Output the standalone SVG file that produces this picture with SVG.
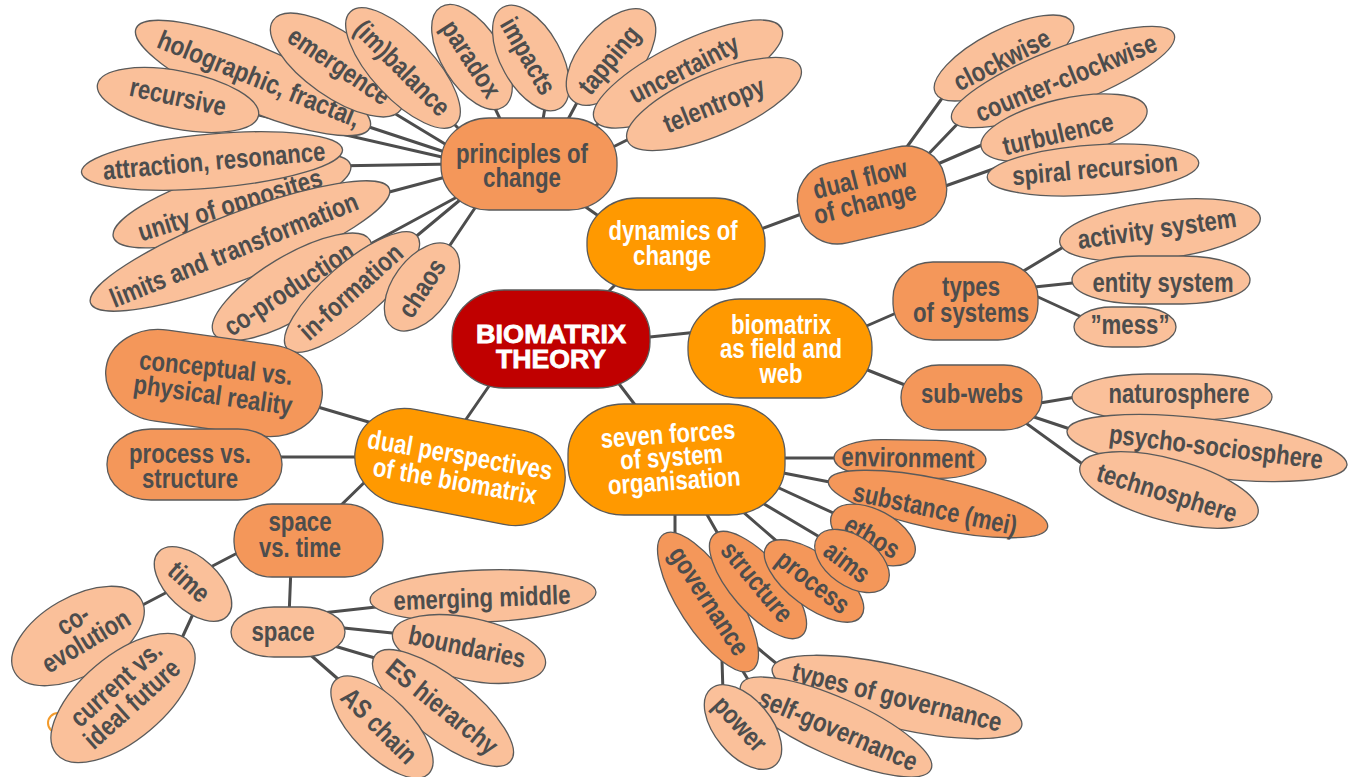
<svg xmlns="http://www.w3.org/2000/svg" width="1358" height="777" viewBox="0 0 1358 777">
<style>
.p{fill:#FAC09A;stroke:#5a5a5a;stroke-width:1.3}
.m{fill:#F4975A;stroke:#5a5a5a;stroke-width:1.3}
.o{fill:#FF9900;stroke:#5a5a5a;stroke-width:1.3}
.r{fill:#C00000;stroke:#5a5a5a;stroke-width:1.3}
text{font-family:'Liberation Sans Narrow','Arial Narrow','Liberation Sans',sans-serif;font-weight:bold;font-size:27px;fill:#4D4D4D;text-anchor:middle}
text.w{fill:#fff}
text.c{font-family:'Liberation Sans',Arial,sans-serif;font-size:26px;fill:#fff;stroke:#fff;stroke-width:0.8}
#connectors line{stroke:#4D4D4D;stroke-width:3;stroke-linecap:round}
</style>
<rect width="1358" height="777" fill="#fff"/>
<g id="connectors">
<line x1="455" y1="160" x2="250" y2="113"/>
<line x1="454" y1="155" x2="360" y2="124"/>
<line x1="455" y1="150" x2="389" y2="110"/>
<line x1="448" y1="118" x2="465" y2="135"/>
<line x1="455" y1="164" x2="330" y2="166"/>
<line x1="457" y1="174" x2="378" y2="195"/>
<line x1="470" y1="190" x2="363" y2="248"/>
<line x1="472" y1="190" x2="407" y2="244"/>
<line x1="483" y1="196" x2="440" y2="260"/>
<line x1="490" y1="98" x2="503" y2="125"/>
<line x1="546" y1="102" x2="542" y2="125"/>
<line x1="580" y1="97" x2="565" y2="125"/>
<line x1="585" y1="134" x2="607" y2="117"/>
<line x1="603" y1="152" x2="637" y2="135"/>
<line x1="570" y1="196" x2="610" y2="224"/>
<line x1="750" y1="233" x2="815" y2="209"/>
<line x1="896" y1="162" x2="948" y2="90"/>
<line x1="917" y1="166" x2="965" y2="116"/>
<line x1="926" y1="169" x2="991" y2="141"/>
<line x1="934" y1="190" x2="999" y2="167"/>
<line x1="595" y1="305" x2="625" y2="275"/>
<line x1="640" y1="338" x2="698" y2="332"/>
<line x1="610" y1="372" x2="645" y2="418"/>
<line x1="498" y1="373" x2="460" y2="428"/>
<line x1="855" y1="331" x2="910" y2="307"/>
<line x1="855" y1="365" x2="915" y2="389"/>
<line x1="1012" y1="278" x2="1070" y2="243"/>
<line x1="1025" y1="288" x2="1082" y2="282"/>
<line x1="1025" y1="291" x2="1086" y2="319"/>
<line x1="1028" y1="405" x2="1082" y2="396"/>
<line x1="1025" y1="414" x2="1076" y2="431"/>
<line x1="1016" y1="416" x2="1088" y2="468"/>
<line x1="775" y1="458" x2="845" y2="458"/>
<line x1="773" y1="471" x2="840" y2="484"/>
<line x1="766" y1="482" x2="842" y2="517"/>
<line x1="749" y1="495" x2="828" y2="542"/>
<line x1="727" y1="498" x2="780" y2="544"/>
<line x1="697" y1="497" x2="722" y2="541"/>
<line x1="675" y1="500" x2="675" y2="540"/>
<line x1="742" y1="635" x2="783" y2="669"/>
<line x1="736" y1="660" x2="752" y2="686"/>
<line x1="722" y1="660" x2="723" y2="693"/>
<line x1="311" y1="405" x2="372" y2="423"/>
<line x1="271" y1="457" x2="364" y2="457"/>
<line x1="372" y1="475" x2="333" y2="513"/>
<line x1="247" y1="548" x2="201" y2="572"/>
<line x1="291" y1="567" x2="289" y2="617"/>
<line x1="175" y1="588" x2="133" y2="610"/>
<line x1="199" y1="601" x2="176" y2="651"/>
<line x1="313" y1="614" x2="385" y2="606"/>
<line x1="334" y1="627" x2="402" y2="634"/>
<line x1="331" y1="645" x2="385" y2="661"/>
<line x1="306" y1="651" x2="346" y2="686"/>
</g>
<circle cx="58" cy="723" r="10" fill="none" stroke="#F39A2B" stroke-width="2"/>
<g id="n-holographic"><ellipse class="p" transform="translate(253,78) rotate(23)" rx="127" ry="32"/><text transform="translate(259,79) rotate(22)" y="9" textLength="216" lengthAdjust="spacingAndGlyphs">holographic, fractal,</text></g>
<g id="n-recursive"><ellipse class="p" transform="translate(178,100) rotate(11)" rx="82" ry="29"/><text transform="translate(178,97) rotate(12)" y="9" textLength="98" lengthAdjust="spacingAndGlyphs">recursive</text></g>
<g id="n-emergence"><ellipse class="p" transform="translate(337,65) rotate(35)" rx="78" ry="32"/><text transform="translate(339,66) rotate(34)" y="9" textLength="117" lengthAdjust="spacingAndGlyphs">emergence</text></g>
<g id="n-imbalance"><ellipse class="p" transform="translate(403,68) rotate(47)" rx="77" ry="31"/><text transform="translate(402,68) rotate(45)" y="9" textLength="123" lengthAdjust="spacingAndGlyphs">(im)balance</text></g>
<g id="n-paradox"><ellipse class="p" transform="translate(472,57) rotate(58)" rx="59" ry="30"/><text transform="translate(471,59) rotate(57)" y="9" textLength="86" lengthAdjust="spacingAndGlyphs">paradox</text></g>
<g id="n-impacts"><ellipse class="p" transform="translate(531,58) rotate(61)" rx="58" ry="30"/><text transform="translate(528,56) rotate(60)" y="9" textLength="84" lengthAdjust="spacingAndGlyphs">impacts</text></g>
<g id="n-tapping"><ellipse class="p" transform="translate(611,57) rotate(-49)" rx="58" ry="31"/><text transform="translate(609,60) rotate(-50)" y="9" textLength="80" lengthAdjust="spacingAndGlyphs">tapping</text></g>
<g id="n-uncertainty"><ellipse class="p" transform="translate(688,74) rotate(-26)" rx="104" ry="32"/><text transform="translate(684,69) rotate(-27)" y="9" textLength="119" lengthAdjust="spacingAndGlyphs">uncertainty</text></g>
<g id="n-telentropy"><ellipse class="p" transform="translate(714,104) rotate(-23)" rx="94" ry="31"/><text transform="translate(714,105) rotate(-22)" y="9" textLength="107" lengthAdjust="spacingAndGlyphs">telentropy</text></g>
<g id="n-unity"><ellipse class="p" transform="translate(232,201) rotate(-17)" rx="124" ry="31"/><text transform="translate(230,205) rotate(-17)" y="9" textLength="191" lengthAdjust="spacingAndGlyphs">unity of opposites</text></g>
<g id="n-limits"><ellipse class="p" transform="translate(240,246) rotate(-21)" rx="160" ry="33"/><text transform="translate(234,250) rotate(-22)" y="9" textLength="265" lengthAdjust="spacingAndGlyphs">limits and transformation</text></g>
<g id="n-attraction"><ellipse class="p" transform="translate(212,161) rotate(-5)" rx="131" ry="27"/><text transform="translate(214,161) rotate(-5)" y="9" textLength="223" lengthAdjust="spacingAndGlyphs">attraction, resonance</text></g>
<g id="n-coproduction"><ellipse class="p" transform="translate(292,287) rotate(-31)" rx="91" ry="31"/><text transform="translate(289,289) rotate(-33)" y="9" textLength="149" lengthAdjust="spacingAndGlyphs">co-production</text></g>
<g id="n-information"><ellipse class="p" transform="translate(352,292) rotate(-41)" rx="86" ry="28"/><text transform="translate(351,292) rotate(-42)" y="9" textLength="129" lengthAdjust="spacingAndGlyphs">in-formation</text></g>
<g id="n-chaos"><ellipse class="p" transform="translate(422,287) rotate(-54)" rx="50" ry="29"/><text transform="translate(422,288) rotate(-57)" y="9" textLength="64" lengthAdjust="spacingAndGlyphs">chaos</text></g>
<g id="n-principles"><rect class="m" x="441" y="118" width="176" height="92" rx="48" ry="44"/><text x="522" y="163" textLength="132" lengthAdjust="spacingAndGlyphs">principles of</text><text x="522" y="187" textLength="78" lengthAdjust="spacingAndGlyphs">change</text></g>
<g id="n-clockwise"><ellipse class="p" transform="translate(1004,58) rotate(-27)" rx="77" ry="28"/><text transform="translate(1002,60) rotate(-27)" y="9" textLength="105" lengthAdjust="spacingAndGlyphs">clockwise</text></g>
<g id="n-counterclockwise"><ellipse class="p" transform="translate(1063,77) rotate(-21)" rx="119" ry="29"/><text transform="translate(1066,78) rotate(-22)" y="9" textLength="193" lengthAdjust="spacingAndGlyphs">counter-clockwise</text></g>
<g id="n-turbulence"><ellipse class="p" transform="translate(1064,128) rotate(-13)" rx="85" ry="29"/><text transform="translate(1058,134) rotate(-13)" y="9" textLength="113" lengthAdjust="spacingAndGlyphs">turbulence</text></g>
<g id="n-spiral"><ellipse class="p" transform="translate(1093,170) rotate(-4)" rx="106" ry="25"/><text transform="translate(1095,169) rotate(-5)" y="9" textLength="166" lengthAdjust="spacingAndGlyphs">spiral recursion</text></g>
<g id="n-dualflow"><rect class="m" transform="translate(872,195) rotate(-13)" x="-75" y="-41" width="150" height="82" rx="40" ry="38"/><text transform="translate(860,179) rotate(-14)" y="9" textLength="96" lengthAdjust="spacingAndGlyphs">dual flow</text><text transform="translate(865,203) rotate(-14)" y="9" textLength="105" lengthAdjust="spacingAndGlyphs">of change</text></g>
<g id="n-dynamics"><rect class="o" x="587" y="198" width="178" height="92" rx="50" ry="44"/><text class="w" x="673" y="240" textLength="129" lengthAdjust="spacingAndGlyphs">dynamics of</text><text class="w" x="672" y="265" textLength="78" lengthAdjust="spacingAndGlyphs">change</text></g>
<g id="n-activity"><ellipse class="p" transform="translate(1160,230) rotate(-7)" rx="101" ry="29"/><text transform="translate(1157,229) rotate(-8)" y="9" textLength="160" lengthAdjust="spacingAndGlyphs">activity system</text></g>
<g id="n-entity"><rect class="p" x="1072" y="256" width="178" height="48" rx="67" ry="24"/><text x="1163" y="292" textLength="141" lengthAdjust="spacingAndGlyphs">entity system</text></g>
<g id="n-mess"><rect class="p" x="1074" y="307" width="102" height="40" rx="38" ry="20"/><text x="1130" y="334" textLength="79" lengthAdjust="spacingAndGlyphs">”mess”</text></g>
<g id="n-naturosphere"><rect class="p" x="1072" y="374" width="200" height="46" rx="75" ry="23"/><text x="1179" y="403" textLength="141" lengthAdjust="spacingAndGlyphs">naturosphere</text></g>
<g id="n-psycho"><ellipse class="p" transform="translate(1207,448) rotate(7)" rx="141" ry="29"/><text transform="translate(1216,447) rotate(7)" y="9" textLength="215" lengthAdjust="spacingAndGlyphs">psycho-sociosphere</text></g>
<g id="n-techno"><ellipse class="p" transform="translate(1169,490) rotate(15)" rx="92" ry="31"/><text transform="translate(1167,493) rotate(17)" y="9" textLength="145" lengthAdjust="spacingAndGlyphs">technosphere</text></g>
<g id="n-types"><rect class="m" x="893" y="262" width="145" height="78" rx="40" ry="36"/><text x="971" y="296" textLength="58" lengthAdjust="spacingAndGlyphs">types</text><text x="971" y="322" textLength="116" lengthAdjust="spacingAndGlyphs">of systems</text></g>
<g id="n-subwebs"><rect class="m" x="901" y="365" width="141" height="65" rx="38" ry="32"/><text x="972" y="403" textLength="102" lengthAdjust="spacingAndGlyphs">sub-webs</text></g>
<g id="n-field"><rect class="o" x="688" y="299" width="184" height="99" rx="52" ry="48"/><text class="w" x="781" y="334" textLength="100" lengthAdjust="spacingAndGlyphs">biomatrix</text><text class="w" x="781" y="358" textLength="122" lengthAdjust="spacingAndGlyphs">as field and</text><text class="w" x="781" y="383" textLength="43" lengthAdjust="spacingAndGlyphs">web</text></g>
<g id="n-environment"><rect class="m" transform="translate(910,459) rotate(1)" x="-76" y="-19" width="152" height="38" rx="50" ry="19"/><text transform="translate(908,458) rotate(1)" y="9" textLength="133" lengthAdjust="spacingAndGlyphs">environment</text></g>
<g id="n-substance"><ellipse class="m" transform="translate(938,504) rotate(12)" rx="112" ry="25"/><text transform="translate(935,509) rotate(12)" y="9" textLength="167" lengthAdjust="spacingAndGlyphs">substance (mei)</text></g>
<g id="n-ethos"><ellipse class="m" transform="translate(873,535) rotate(28)" rx="46" ry="25"/><text transform="translate(872,537) rotate(30)" y="9" textLength="59" lengthAdjust="spacingAndGlyphs">ethos</text></g>
<g id="n-governance"><ellipse class="m" transform="translate(708,602) rotate(57)" rx="81" ry="29"/><text transform="translate(709,601) rotate(57)" y="9" textLength="124" lengthAdjust="spacingAndGlyphs">governance</text></g>
<g id="n-structure"><ellipse class="m" transform="translate(758,585) rotate(49)" rx="67" ry="27"/><text transform="translate(757,582) rotate(50)" y="9" textLength="96" lengthAdjust="spacingAndGlyphs">structure</text></g>
<g id="n-process"><ellipse class="m" transform="translate(814,581) rotate(37)" rx="59" ry="26"/><text transform="translate(813,582) rotate(38)" y="9" textLength="85" lengthAdjust="spacingAndGlyphs">process</text></g>
<g id="n-aims"><ellipse class="m" transform="translate(852,561) rotate(35)" rx="42" ry="25"/><text transform="translate(847,562) rotate(37)" y="9" textLength="50" lengthAdjust="spacingAndGlyphs">aims</text></g>
<g id="n-typesgov"><ellipse class="p" transform="translate(897,697) rotate(13)" rx="128" ry="31"/><text transform="translate(897,697) rotate(14)" y="9" textLength="215" lengthAdjust="spacingAndGlyphs">types of governance</text></g>
<g id="n-selfgov"><ellipse class="p" transform="translate(836,727) rotate(24)" rx="104" ry="29"/><text transform="translate(838,730) rotate(23)" y="9" textLength="170" lengthAdjust="spacingAndGlyphs">self-governance</text></g>
<g id="n-power"><ellipse class="p" transform="translate(743,727) rotate(50)" rx="50" ry="28"/><text transform="translate(740,724) rotate(47)" y="9" textLength="65" lengthAdjust="spacingAndGlyphs">power</text></g>
<g id="n-dualpersp"><rect class="o" transform="translate(460,467) rotate(11)" x="-106" y="-48" width="212" height="96" rx="52" ry="46"/><text class="w" transform="translate(460,455) rotate(10)" y="9" textLength="187" lengthAdjust="spacingAndGlyphs">dual perspectives</text><text class="w" transform="translate(455,481) rotate(10)" y="9" textLength="166" lengthAdjust="spacingAndGlyphs">of the biomatrix</text></g>
<g id="n-sevenforces"><rect class="o" x="568" y="404" width="217" height="111" rx="56" ry="50"/><g transform="rotate(-4,672,465)"><text class="w" x="670" y="443" textLength="135" lengthAdjust="spacingAndGlyphs">seven forces</text><text class="w" x="672" y="466" textLength="103" lengthAdjust="spacingAndGlyphs">of system</text><text class="w" x="673" y="490" textLength="133" lengthAdjust="spacingAndGlyphs">organisation</text></g></g>
<g id="n-conceptual"><rect class="m" transform="translate(214,383) rotate(8)" x="-109" y="-46" width="218" height="92" rx="56" ry="46"/><text transform="translate(216,368) rotate(6)" y="9" textLength="154" lengthAdjust="spacingAndGlyphs">conceptual vs.</text><text transform="translate(213,395) rotate(8)" y="9" textLength="160" lengthAdjust="spacingAndGlyphs">physical reality</text></g>
<g id="n-processstructure"><rect class="m" x="107" y="429" width="175" height="71" rx="44" ry="35"/><text x="190" y="463" textLength="122" lengthAdjust="spacingAndGlyphs">process vs.</text><text x="190" y="488" textLength="96" lengthAdjust="spacingAndGlyphs">structure</text></g>
<g id="n-spacetime"><rect class="m" x="234" y="504" width="149" height="73" rx="38" ry="35"/><text x="300" y="531" textLength="63" lengthAdjust="spacingAndGlyphs">space</text><text x="300" y="557" textLength="82" lengthAdjust="spacingAndGlyphs">vs. time</text></g>
<g id="n-time"><ellipse class="p" transform="translate(193,584) rotate(43)" rx="47" ry="26"/><text transform="translate(189,582) rotate(42)" y="9" textLength="46" lengthAdjust="spacingAndGlyphs">time</text></g>
<g id="n-space"><rect class="p" x="231" y="607" width="114" height="50" rx="43" ry="25"/><text x="283" y="641" textLength="63" lengthAdjust="spacingAndGlyphs">space</text></g>
<g id="n-coevolution"><ellipse class="p" transform="translate(78,636) rotate(-30)" rx="73" ry="39"/><text transform="translate(73,620) rotate(-31)" y="9" textLength="33" lengthAdjust="spacingAndGlyphs">co-</text><text transform="translate(86,641) rotate(-31)" y="9" textLength="98" lengthAdjust="spacingAndGlyphs">evolution</text></g>
<g id="n-current"><ellipse class="p" transform="translate(123,698) rotate(-40)" rx="87" ry="42"/><text transform="translate(116,684) rotate(-42)" y="9" textLength="113" lengthAdjust="spacingAndGlyphs">current vs.</text><text transform="translate(132,704) rotate(-42)" y="9" textLength="119" lengthAdjust="spacingAndGlyphs">ideal future</text></g>
<g id="n-emerging"><ellipse class="p" transform="translate(483,596) rotate(-2)" rx="113" ry="26"/><text transform="translate(482,598) rotate(-2)" y="9" textLength="177" lengthAdjust="spacingAndGlyphs">emerging middle</text></g>
<g id="n-boundaries"><ellipse class="p" transform="translate(469,649) rotate(12)" rx="78" ry="31"/><text transform="translate(467,647) rotate(12)" y="9" textLength="119" lengthAdjust="spacingAndGlyphs">boundaries</text></g>
<g id="n-eshierarchy"><ellipse class="p" transform="translate(443,708) rotate(38)" rx="86" ry="31"/><text transform="translate(442,707) rotate(39)" y="9" textLength="135" lengthAdjust="spacingAndGlyphs">ES hierarchy</text></g>
<g id="n-aschain"><ellipse class="p" transform="translate(382,727) rotate(45)" rx="66" ry="29"/><text transform="translate(379,726) rotate(45)" y="9" textLength="95" lengthAdjust="spacingAndGlyphs">AS chain</text></g>
<g id="n-biomatrix-theory"><rect class="r" x="452" y="290" width="198" height="98" rx="52" ry="46"/><text class="c" x="551" y="343" textLength="150" lengthAdjust="spacingAndGlyphs">BIOMATRIX</text><text class="c" x="551" y="368" textLength="110" lengthAdjust="spacingAndGlyphs">THEORY</text></g>
</svg>
